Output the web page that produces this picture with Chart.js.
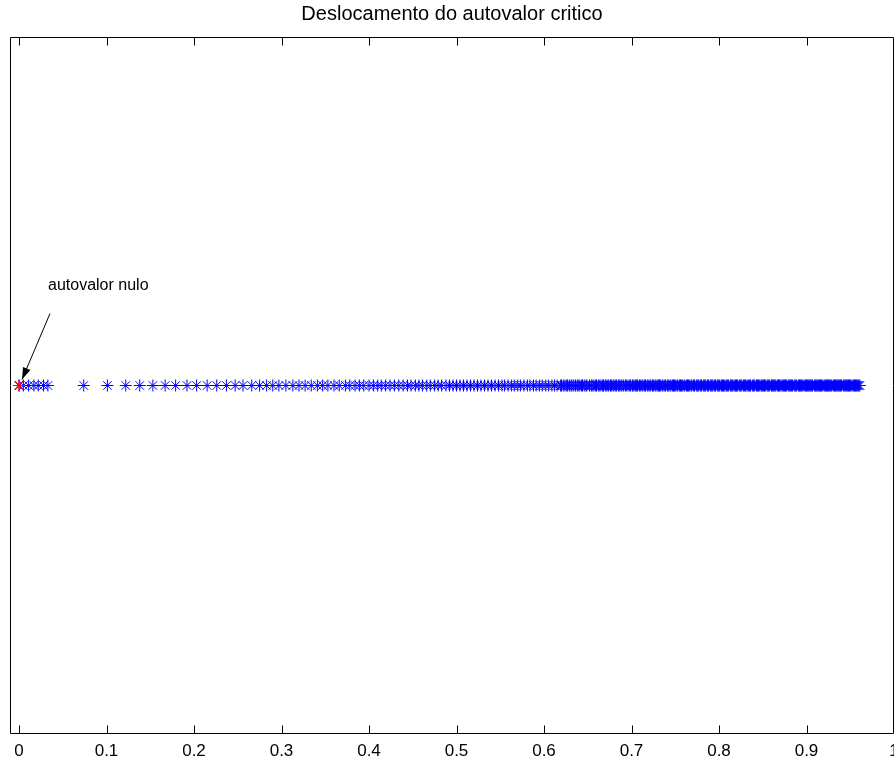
<!DOCTYPE html>
<html>
<head>
<meta charset="utf-8">
<title>Deslocamento do autovalor critico</title>
<script src="https://cdn.jsdelivr.net/npm/chart.js@4.4.1/dist/chart.umd.min.js"></script>
<style>
    html, body { margin: 0; padding: 0; background: #ffffff; overflow: hidden; }
    canvas { display: block; }
</style>
</head>
<body>
<canvas id="autovalorChart" width="894" height="765"></canvas>
<script>
const nullEigenvalue = [0];
const nearZeroValues = [0, 0.005, 0.011, 0.017, 0.022, 0.028, 0.033];
const sparseValues = [
    0.074, 0.101, 0.122, 0.138, 0.153, 0.167, 0.179, 0.192, 0.203, 0.215,
    0.226, 0.237, 0.247, 0.256, 0.266, 0.275, 0.283, 0.290, 0.297, 0.305,
    0.313, 0.320, 0.327, 0.334, 0.341, 0.347, 0.353, 0.360, 0.366, 0.373
];
const middleValues = [
    0.378, 0.384, 0.389, 0.394, 0.400,
    0.405, 0.410, 0.414, 0.419, 0.424, 0.429, 0.434, 0.439, 0.444, 0.448,
    0.453, 0.457, 0.461, 0.466, 0.470, 0.475, 0.479, 0.483, 0.488, 0.492, 0.496,
    0.500, 0.504, 0.508, 0.512, 0.516, 0.520, 0.524, 0.528, 0.532, 0.536, 0.540, 0.544, 0.548,
    0.552, 0.555, 0.559, 0.563, 0.566, 0.570, 0.573, 0.577, 0.581, 0.584, 0.588, 0.591, 0.595, 0.598,
    0.602, 0.605, 0.609, 0.612, 0.615, 0.619, 0.622, 0.626, 0.629, 0.632, 0.636, 0.639, 0.643, 0.646, 0.649
];
const denseValues = [
    0.652, 0.655, 0.659, 0.662, 0.665, 0.668, 0.671, 0.674, 0.677, 0.680, 0.683, 0.686, 0.689, 0.693, 0.696, 0.699,
    0.702, 0.705, 0.707, 0.710, 0.713, 0.716, 0.719, 0.722, 0.725, 0.728, 0.731, 0.733, 0.736, 0.739, 0.742, 0.745, 0.748,
    0.750, 0.753, 0.756, 0.758, 0.761, 0.764, 0.766, 0.769, 0.772, 0.775, 0.777, 0.780, 0.783, 0.785, 0.788, 0.791, 0.793, 0.796, 0.799,
    0.801, 0.804, 0.806, 0.809, 0.811, 0.814, 0.816, 0.819, 0.821, 0.824, 0.826, 0.829, 0.831, 0.834, 0.836, 0.839, 0.841, 0.844, 0.846, 0.849,
    0.851, 0.853, 0.856, 0.858, 0.861, 0.863, 0.865, 0.868, 0.870, 0.873, 0.875, 0.877, 0.880, 0.882, 0.884, 0.887, 0.889, 0.892, 0.894, 0.896, 0.899,
    0.901, 0.903, 0.905, 0.907, 0.910, 0.912, 0.914, 0.916, 0.918, 0.921, 0.923, 0.925, 0.927, 0.929, 0.932, 0.934, 0.936, 0.938, 0.940, 0.943, 0.945, 0.947, 0.949, 0.951, 0.954, 0.956, 0.958, 0.960
];
// the tail is packed so tightly that the markers merge into a solid band
const packedValues = [
    0.620, 0.624, 0.627, 0.631, 0.634, 0.638, 0.641, 0.644, 0.648,
    0.654, 0.657, 0.660, 0.663, 0.667, 0.670, 0.673, 0.676, 0.679, 0.682, 0.685, 0.688, 0.691, 0.694, 0.698,
    0.701, 0.704, 0.706, 0.709, 0.712, 0.715, 0.718, 0.721, 0.724, 0.727, 0.730, 0.732, 0.735, 0.738, 0.741, 0.744, 0.747,
    0.749, 0.752, 0.755, 0.757, 0.760, 0.763, 0.765, 0.768, 0.771, 0.774, 0.776, 0.779, 0.782, 0.784, 0.787, 0.790, 0.792, 0.795, 0.798,
    0.800, 0.803, 0.805, 0.808, 0.810, 0.813, 0.815, 0.818, 0.820, 0.823, 0.825, 0.828, 0.830, 0.833, 0.835, 0.838, 0.840, 0.843, 0.845, 0.848,
    0.850, 0.852, 0.855, 0.857, 0.860, 0.862, 0.864, 0.867, 0.869, 0.872, 0.874, 0.876, 0.879, 0.881, 0.883, 0.886, 0.888, 0.891, 0.893, 0.895, 0.898,
    0.900, 0.902, 0.904, 0.906, 0.909, 0.911, 0.913, 0.915, 0.917, 0.920, 0.922, 0.924, 0.926, 0.928, 0.931, 0.933, 0.935, 0.937, 0.939, 0.942, 0.944, 0.946, 0.948, 0.950, 0.953, 0.955, 0.957, 0.959, 0.961
];

// Axis ticks
const xTickValues = [0, 0.1, 0.2, 0.3, 0.4, 0.5, 0.6, 0.7, 0.8, 0.9, 1];
const xTickLabels = ['0', '0.1', '0.2', '0.3', '0.4', '0.5', '0.6', '0.7', '0.8', '0.9', '1'];

const chartTitle = 'Deslocamento do autovalor critico';
const annotationText = 'autovalor nulo';

const FONT = "'Liberation Sans', Arial, Helvetica, sans-serif";

function toPoints(values) {
    return values.map(v => ({ x: v, y: 0 }));
}

const allBlue = nearZeroValues.concat(sparseValues, middleValues, denseValues, packedValues);

// Draws the box, inward ticks, labels, title and the arrow annotation
const matlabAxesPlugin = {
    id: 'matlabAxes',
    afterDatasetsDraw(chart) {
        const ctx = chart.ctx;
        const area = chart.chartArea;
        const xScale = chart.scales.x;
        const yScale = chart.scales.y;
        const left = Math.round(area.left) + 0.5;
        const top = Math.round(area.top) + 0.5;
        const right = Math.round(area.right) - 0.5;
        const bottom = Math.round(area.bottom) - 0.5;

        ctx.save();
        ctx.strokeStyle = '#000000';
        ctx.lineWidth = 1;
        ctx.beginPath();
        ctx.moveTo(left, top);
        ctx.lineTo(right, top);
        ctx.lineTo(right, bottom);
        ctx.lineTo(left, bottom);
        ctx.closePath();
        ctx.stroke();

        // inward ticks on top and bottom
        const tickLen = 8;
        ctx.beginPath();
        xTickValues.forEach(v => {
            const px = Math.round(xScale.getPixelForValue(v)) + 0.5;
            if (px > right + 1) return;
            ctx.moveTo(px, bottom);
            ctx.lineTo(px, bottom - tickLen);
            ctx.moveTo(px, top);
            ctx.lineTo(px, top + tickLen);
        });
        ctx.stroke();

        // tick labels
        ctx.fillStyle = '#000000';
        ctx.font = '17px ' + FONT;
        ctx.textAlign = 'center';
        ctx.textBaseline = 'middle';
        xTickValues.forEach((v, i) => {
            const px = xScale.getPixelForValue(v);
            ctx.fillText(xTickLabels[i], px, area.bottom + 17);
        });

        // title
        ctx.font = '20px ' + FONT;
        ctx.fillText(chartTitle, (area.left + area.right) / 2, 14);

        // annotation pointing at the null eigenvalue
        const tipX = xScale.getPixelForValue(nullEigenvalue[0]) + 3;
        const tipY = yScale.getPixelForValue(0) - 6;
        const tailX = tipX + 28;
        const tailY = tipY - 66;
        ctx.beginPath();
        ctx.moveTo(tailX, tailY);
        ctx.lineTo(tipX, tipY);
        ctx.stroke();
        const ang = Math.atan2(tipY - tailY, tipX - tailX);
        const headLen = 12;
        const headWid = 4;
        const bx = tipX - headLen * Math.cos(ang);
        const by = tipY - headLen * Math.sin(ang);
        ctx.beginPath();
        ctx.moveTo(tipX, tipY);
        ctx.lineTo(bx + headWid * Math.sin(ang), by - headWid * Math.cos(ang));
        ctx.lineTo(bx - headWid * Math.sin(ang), by + headWid * Math.cos(ang));
        ctx.closePath();
        ctx.fill();

        ctx.font = '16px ' + FONT;
        ctx.textAlign = 'left';
        ctx.fillText(annotationText, tailX - 2, tailY - 28);
        ctx.restore();
    }
};

document.addEventListener('DOMContentLoaded', function() {
    const ctx = document.getElementById('autovalorChart');

    new Chart(ctx, {
        type: 'scatter',
        data: {
            datasets: [{
                label: 'autovalor nulo',
                data: toPoints(nullEigenvalue),
                pointStyle: 'star',
                pointRadius: 6,
                borderColor: '#ff0000',
                backgroundColor: '#ff0000',
                borderWidth: 1.2,
                order: 0
            }, {
                label: 'autovalores',
                data: toPoints(allBlue),
                pointStyle: 'star',
                pointRadius: 6,
                borderColor: '#0000ff',
                backgroundColor: '#0000ff',
                borderWidth: 1,
                order: 1
            }]
        },
        options: {
            responsive: false,
            animation: false,
            layout: {
                autoPadding: false,
                padding: { left: 10, top: 37, right: 0, bottom: 31 }
            },
            scales: {
                x: { type: 'linear', min: -0.0103, max: 1.0, display: false },
                y: { type: 'linear', min: -1, max: 1, display: false }
            },
            plugins: {
                legend: { display: false },
                tooltip: { enabled: false },
                title: { display: false }
            }
        },
        plugins: [matlabAxesPlugin]
    });
});
</script>
</body>
</html>
